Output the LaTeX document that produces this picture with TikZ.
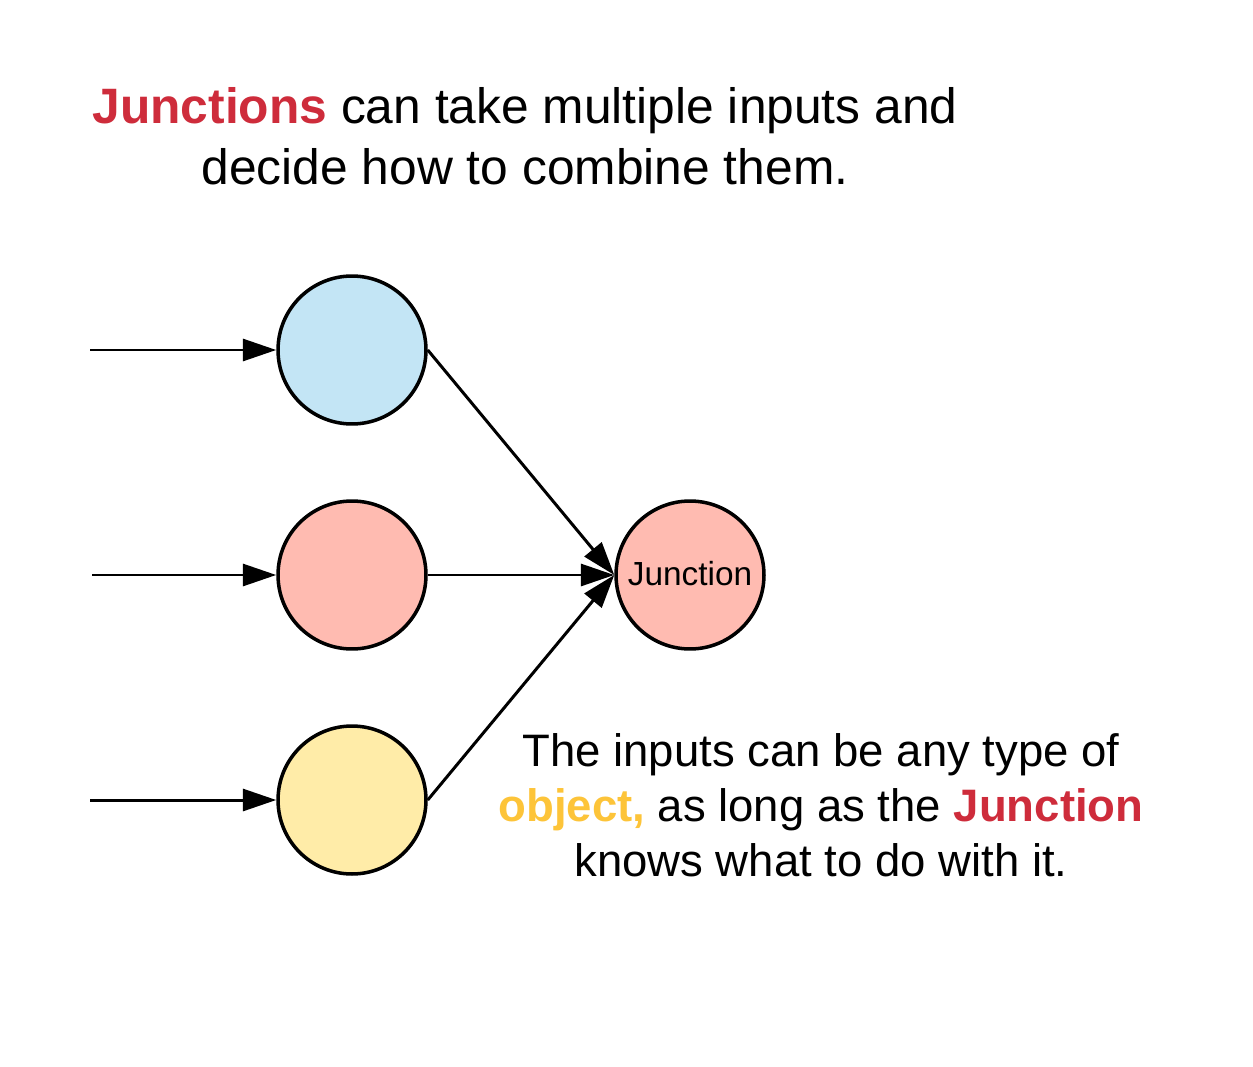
\documentclass[tikz,border=0pt]{standalone}
\usepackage{fontspec}
\setmainfont{Liberation Sans}
\usetikzlibrary{arrows.meta}
\definecolor{jred}{RGB}{206,44,59}
\definecolor{jorange}{RGB}{253,196,57}
\definecolor{fblue}{RGB}{195,229,245}
\definecolor{fsalmon}{RGB}{255,187,177}
\definecolor{fyellow}{RGB}{255,236,168}
\tikzset{
  ball/.style={circle, draw=black, line width=2pt, minimum size=2.96cm, inner sep=0pt},
  conn/.style={line width=1.7pt, -{Triangle[length=19pt,width=12.5pt]}},
  bigtxt/.style={anchor=base, inner sep=0pt, font=\fontsize{28.3}{34}\selectfont},
  midtxt/.style={anchor=base, inner sep=0pt, font=\fontsize{25.9}{31}\selectfont},
}
\begin{document}
\begin{tikzpicture}[x=0.02cm, y=-0.02cm]
\useasboundingbox[fill=white] (0,0) rectangle (1253,1067);
% title
\node[bigtxt] (t1) at (525,124) {\textbf{\textcolor{jred}{Junctions}} can take multiple inputs and};
\node[bigtxt] (t2) at (525,185) {decide how to combine them.};
% circles
\node[ball, fill=fblue] (b) at (352,350) {};
\node[ball, fill=fsalmon] (r) at (352,575) {};
\node[ball, fill=fyellow] (y) at (352,800) {};
\node[ball, fill=fsalmon, font=\fontsize{19}{22}\selectfont] (j) at (690,575) {\raisebox{2.3pt}{Junction}};
% free ends
\coordinate (ib) at (90,350);
\coordinate (ir) at (92,575);
\coordinate (iy) at (90,800);
\draw[conn] (ib) -- (b.west);
\draw[conn] (ir) -- (r.west);
\draw[conn] (iy) -- (y.west);
\draw[conn] (b.east) -- (j.west);
\draw[conn] (r.east) -- (j.west);
\draw[conn] (y.east) -- (j.west);
% bottom text
\node[midtxt] (m1) at (821,766) {The inputs can be any type of};
\node[midtxt] (m2) at (821,821) {\textbf{\textcolor{jorange}{object,}} as long as the \textbf{\textcolor{jred}{Junction}}};
\node[midtxt] (m3) at (821,876) {knows what to do with it.};
\end{tikzpicture}
\end{document}
